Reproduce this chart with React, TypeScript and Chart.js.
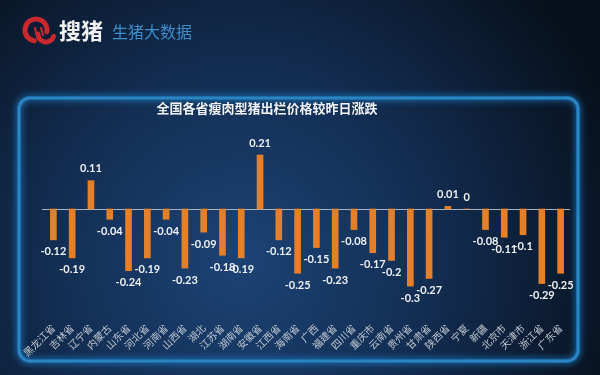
import React, { useEffect, useRef } from "react";
import { Chart, registerables } from "chart.js";

Chart.register(...registerables);

const provinces: string[] = [
  "黑龙江省", "吉林省", "辽宁省", "内蒙古", "山东省", "河北省", "河南省",
  "山西省", "湖北", "江苏省", "湖南省", "安徽省", "江西省", "海南省",
  "广西", "福建省", "四川省", "重庆市", "云南省", "贵州省", "甘肃省",
  "陕西省", "宁夏", "新疆", "北京市", "天津市", "浙江省", "广东省",
];

const changes: number[] = [
  -0.12, -0.19, 0.11, -0.04, -0.24, -0.19, -0.04,
  -0.23, -0.09, -0.18, -0.19, 0.21, -0.12, -0.25,
  -0.15, -0.23, -0.08, -0.17, -0.2, -0.3, -0.27,
  0.01, 0, -0.08, -0.11, -0.1, -0.29, -0.25,
];

const chartTitle = "全国各省瘦肉型猪出栏价格较昨日涨跌";
const brandName = "搜猪";
const brandSub = "生猪大数据";

const backgroundPlugin = {
  id: "bgPanel",
  beforeDraw(chart: any) {
    const ctx = chart.ctx as CanvasRenderingContext2D;
    const W = chart.width;
    const H = chart.height;
    ctx.save();
    ctx.fillStyle = "#08121f";
    ctx.fillRect(0, 0, W, H);
    const g = ctx.createRadialGradient(240, 260, 10, 240, 260, 400);
    g.addColorStop(0, "#1c4274");
    g.addColorStop(0.45, "#132e53");
    g.addColorStop(1, "#07101c");
    ctx.fillStyle = g;
    ctx.fillRect(0, 0, W, H);

    // frame
    const x0 = 19, y0 = 98, x1 = 578, y1 = 361, r = 11;
    ctx.beginPath();
    ctx.moveTo(x0 + r, y0);
    ctx.lineTo(x1 - r, y0);
    ctx.arcTo(x1, y0, x1, y0 + r, r);
    ctx.lineTo(x1, y1 - r);
    ctx.arcTo(x1, y1, x1 - r, y1, r);
    ctx.lineTo(x0 + r, y1);
    ctx.arcTo(x0, y1, x0, y1 - r, r);
    ctx.lineTo(x0, y0 + r);
    ctx.arcTo(x0, y0, x0 + r, y0, r);
    ctx.closePath();
    ctx.shadowColor = "#1f86d0";
    ctx.shadowBlur = 7;
    ctx.strokeStyle = "#1d6ea8";
    ctx.lineWidth = 4;
    ctx.stroke();
    ctx.shadowBlur = 0;
    ctx.strokeStyle = "rgba(70,160,220,0.6)";
    ctx.lineWidth = 1.5;
    ctx.stroke();

    // logo
    ctx.strokeStyle = "#c9282e";
    ctx.lineWidth = 5;
    ctx.lineCap = "round";
    ctx.beginPath();
    ctx.arc(36, 30, 11, Math.PI * 0.55, Math.PI * 2.05);
    ctx.stroke();
    ctx.beginPath();
    ctx.arc(46, 34, 8, Math.PI * 0.1, Math.PI * 1.0);
    ctx.stroke();
    ctx.lineWidth = 2;
    ctx.beginPath();
    ctx.moveTo(35, 28);
    ctx.lineTo(37, 36);
    ctx.moveTo(41, 28);
    ctx.lineTo(43, 35);
    ctx.stroke();

    ctx.fillStyle = "#f2f2f2";
    ctx.font = "bold 22px 'Noto Sans CJK SC'";
    ctx.textBaseline = "middle";
    ctx.textAlign = "left";
    ctx.fillText(brandName, 59, 31);
    ctx.fillStyle = "#3f8cc9";
    ctx.font = "16px 'Noto Sans CJK SC'";
    ctx.fillText(brandSub, 112, 32);

    // title
    ctx.fillStyle = "#f0f2f5";
    ctx.font = "bold 13px 'Noto Sans CJK SC'";
    ctx.textAlign = "center";
    ctx.fillText(chartTitle, 267, 108);
    ctx.restore();
  },
  beforeDatasetsDraw(chart: any) {
    const ctx = chart.ctx as CanvasRenderingContext2D;
    const y = chart.scales.y.getPixelForValue(0);
    const area = chart.chartArea;
    ctx.save();
    ctx.strokeStyle = "#a9b3bf";
    ctx.lineWidth = 1;
    ctx.beginPath();
    ctx.moveTo(area.left - 2, Math.round(y) + 0.5);
    ctx.lineTo(area.right, Math.round(y) + 0.5);
    ctx.stroke();
    ctx.restore();
  },
  afterDatasetsDraw(chart: any) {
    const ctx = chart.ctx as CanvasRenderingContext2D;
    const meta = chart.getDatasetMeta(0);
    const data = chart.data.datasets[0].data as number[];
    ctx.save();
    ctx.fillStyle = "#eef1f4";
    ctx.font = "bold 11px Lato";
    ctx.textAlign = "center";
    ctx.textBaseline = "middle";
    meta.data.forEach((bar: any, i: number) => {
      const v = data[i];
      const ty = v >= 0 ? bar.y - 12 : bar.y + 12;
      ctx.fillText(String(v), bar.x, ty);
    });
    ctx.restore();
  },
};

export default function App() {
  const ref = useRef<HTMLCanvasElement | null>(null);
  useEffect(() => {
    if (!ref.current) return;
    const chart = new Chart(ref.current, {
      type: "bar",
      data: {
        labels: provinces,
        datasets: [
          {
            data: changes,
            backgroundColor: "#e5802a",
            barThickness: 6,
          },
        ],
      },
      options: {
        animation: false,
        responsive: false,
        devicePixelRatio: 1,
        layout: { padding: { top: 119, left: 44, right: 30, bottom: 8 } },
        plugins: {
          legend: { display: false },
          tooltip: { enabled: false },
          title: { display: false },
        },
        scales: {
          x: {
            grid: { display: false, drawTicks: false },
            border: { display: false },
            afterFit: (scale: any) => {
              scale.height = 50;
            },
            ticks: {
              autoSkip: false,
              minRotation: 45,
              maxRotation: 45,
              padding: 5,
              color: "#bfc7d1",
              font: { size: 10, family: "'Noto Sans CJK SC'" },
            },
          },
          y: {
            display: false,
            min: -0.42,
            max: 0.35,
          },
        },
      },
      plugins: [backgroundPlugin],
    });
    return () => chart.destroy();
  }, []);
  return (
    <div style={{ position: "fixed", left: 0, top: 0, width: 600, height: 375 }}>
      <canvas ref={ref} width={600} height={375} style={{ display: "block" }} />
    </div>
  );
}
